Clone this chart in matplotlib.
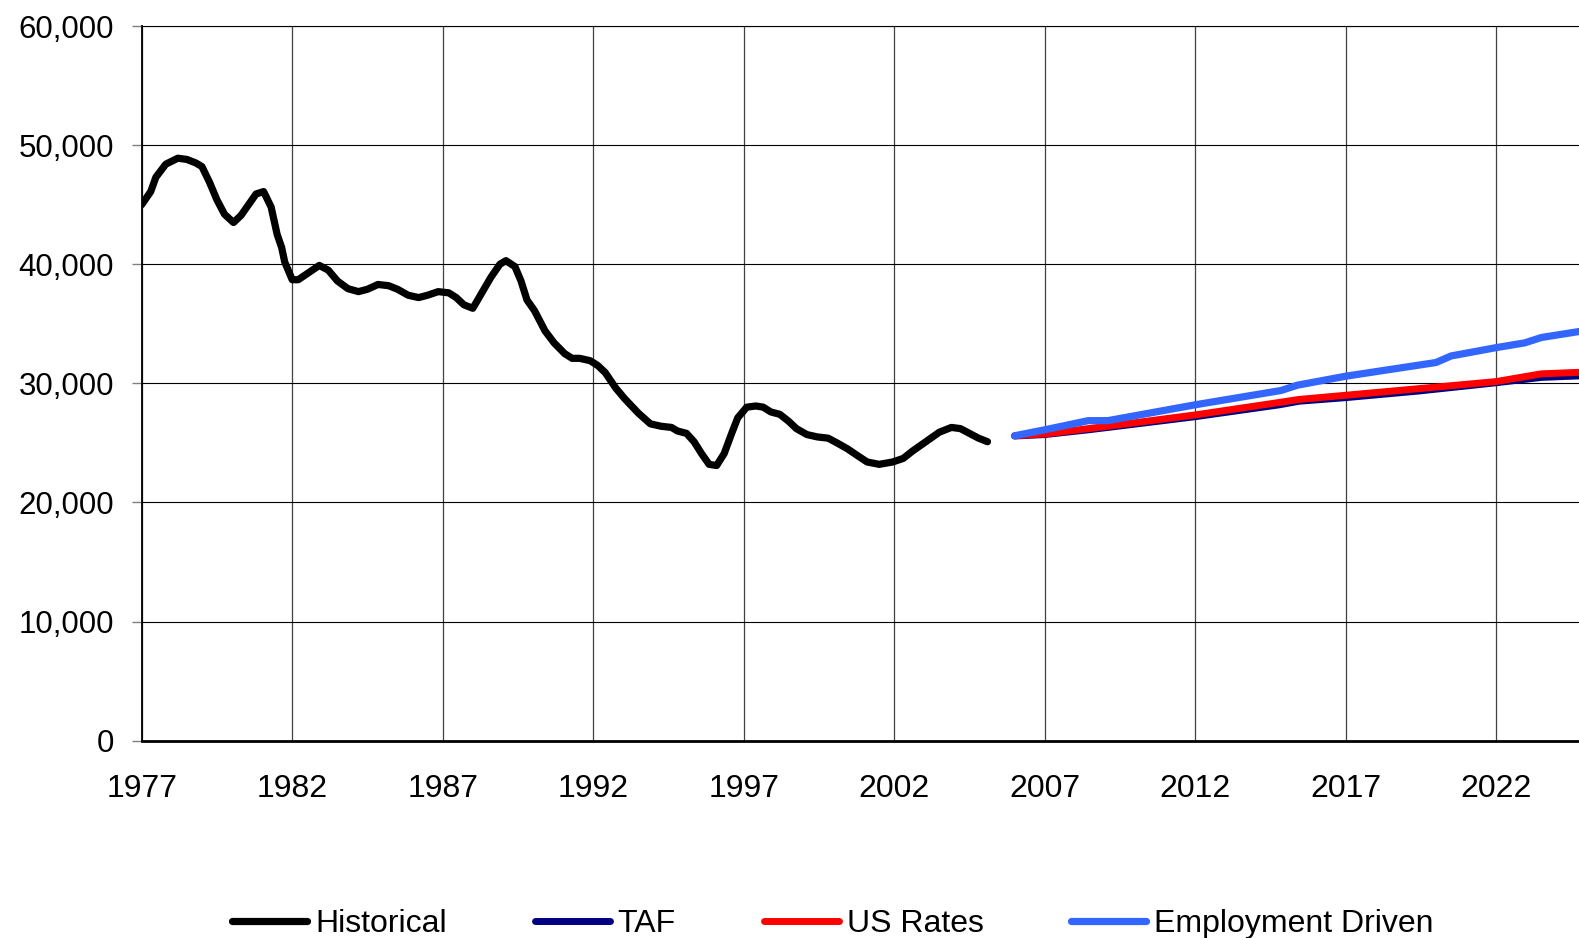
import numpy as np
import matplotlib
matplotlib.use('Agg')
import matplotlib.pyplot as plt
from matplotlib.ticker import FuncFormatter

plt.rcParams['font.family'] = ['Liberation Sans', 'DejaVu Sans']

# Historical series (year / value)
hist_year = [1977.0, 1977.3, 1977.47, 1977.8, 1978.2, 1978.5, 1978.8, 1979.0, 1979.25, 1979.5,
             1979.75, 1980.05, 1980.3, 1980.55, 1980.8, 1981.05, 1981.3, 1981.5, 1981.65, 1981.75,
             1982.0, 1982.2, 1982.55, 1982.9, 1983.2, 1983.5, 1983.85, 1984.2, 1984.5, 1984.85,
             1985.2, 1985.5, 1985.85, 1986.2, 1986.5, 1986.85, 1987.2, 1987.45, 1987.7, 1988.0,
             1988.3, 1988.6, 1988.9, 1989.1, 1989.4, 1989.6, 1989.8, 1990.05, 1990.4, 1990.7,
             1991.05, 1991.3, 1991.55, 1991.9, 1992.15, 1992.4, 1992.75, 1993.05, 1993.5, 1993.9,
             1994.25, 1994.6, 1994.8, 1995.1, 1995.35, 1995.6, 1995.85, 1996.1, 1996.35, 1996.6,
             1996.8, 1997.1, 1997.4, 1997.65, 1997.9, 1998.2, 1998.5, 1998.75, 1999.1, 1999.45,
             1999.8, 2000.1, 2000.45, 2000.8, 2001.1, 2001.5, 2001.95, 2002.3, 2002.6, 2003.05,
             2003.5, 2003.9, 2004.2, 2004.5, 2004.8, 2005.1]
hist_value = [45000, 46100, 47300, 48400, 48900, 48800, 48500, 48200, 46900, 45400,
              44200, 43500, 44100, 45000, 45900, 46100, 44800, 42500, 41400, 40200,
              38700, 38700, 39300, 39900, 39500, 38600, 37950, 37700, 37900, 38300,
              38200, 37900, 37400, 37200, 37400, 37700, 37600, 37200, 36600, 36300,
              37600, 38900, 40000, 40300, 39800, 38600, 37000, 36100, 34400, 33400,
              32500, 32100, 32100, 31900, 31500, 30900, 29600, 28700, 27500, 26600,
              26400, 26300, 26000, 25800, 25100, 24100, 23200, 23100, 24100, 25800,
              27100, 28000, 28100, 28000, 27600, 27400, 26800, 26200, 25700, 25500,
              25400, 25000, 24500, 23900, 23400, 23200, 23400, 23700, 24300, 25100,
              25900, 26300, 26200, 25800, 25400, 25100]

# Forecasts
taf_year = [2006.0, 2007.0, 2008.45, 2009.1, 2012.0, 2014.8, 2015.45, 2017.0, 2019.4, 2022.0, 2023.5, 2025.0]
taf_value = [25580, 25700, 26100, 26300, 27200, 28200, 28500, 28800, 29350, 30050, 30500, 30650]

us_year = [2006.0, 2007.0, 2008.45, 2009.1, 2012.0, 2014.8, 2015.45, 2017.0, 2019.4, 2022.0, 2023.5, 2025.0]
us_value = [25600, 25750, 26200, 26400, 27350, 28400, 28650, 29000, 29550, 30150, 30800, 30950]

emp_year = [2006.0, 2007.0, 2008.45, 2009.1, 2012.0, 2014.85, 2015.4, 2017.0, 2020.0, 2020.5, 2022.0, 2022.95, 2023.5, 2025.0]
emp_value = [25600, 26100, 26870, 26870, 28200, 29400, 29850, 30600, 31750, 32300, 33000, 33400, 33850, 34450]

year_ticks = list(range(1977, 2023, 5))

fig = plt.figure(figsize=(15.79, 9.38), dpi=100)
ax = fig.add_axes([141.7 / 1579, 1 - 740.7 / 938, 1 - 141.7 / 1579, (740.7 - 26) / 938])

line_kw = dict(solid_capstyle='round', solid_joinstyle='round')
ax.plot(hist_year, hist_value, color='black', lw=5.2, label='Historical', **line_kw)
ax.plot(taf_year, taf_value, color='#000080', lw=5.0, label='TAF', **line_kw)
ax.plot(us_year, us_value, color='#FF0000', lw=5.0, label='US Rates', **line_kw)
ax.plot(emp_year, emp_value, color='#3366FF', lw=5.2, label='Employment Driven', **line_kw)

ax.set_xlim(1977, 2024.75)
ax.set_ylim(0, 60000)
ax.set_xticks(year_ticks)
ax.set_yticks(np.arange(0, 60001, 10000))
ax.yaxis.set_major_formatter(FuncFormatter(lambda v, p: f'{int(v):,}'))

ax.yaxis.grid(True, color='black', lw=0.8)
ax.xaxis.grid(True, color='#404040', lw=0.9)
ax.set_axisbelow(True)

ax.spines['right'].set_visible(False)
ax.spines['top'].set_linewidth(0.8)
ax.spines['left'].set_linewidth(1.3)
ax.spines['bottom'].set_linewidth(2.0)

ax.tick_params(axis='y', length=7, width=1, color='#808080', labelsize=22.5, pad=13)
ax.tick_params(axis='x', length=0, labelsize=23, pad=24)

fig.legend(loc='center', bbox_to_anchor=(0.5275, 0.015), ncol=4, frameon=False,
           fontsize=23, handlelength=2.35, handletextpad=0.25, columnspacing=2.75)

fig.savefig('out.png', dpi=100)
